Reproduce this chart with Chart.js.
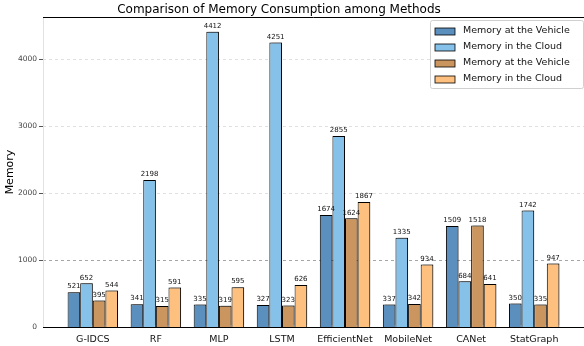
<!DOCTYPE html>
<html>
<head>
<meta charset="utf-8">
<script src="https://cdn.jsdelivr.net/npm/chart.js@4"></script>
<style>
  html, body { margin: 0; padding: 0; background: #fff; }
  #wrap { width: 584px; height: 346px; }
</style>
</head>
<body>
<div id="wrap"><canvas id="memChart" width="584" height="346"></canvas></div>
<script>
// categories and series
var methods = ['G-IDCS', 'RF', 'MLP', 'LSTM', 'EfficientNet', 'MobileNet', 'CANet', 'StatGraph'];
var vehicleA = [521, 341, 335, 327, 1674, 337, 1509, 350];
var cloudA   = [652, 2198, 4412, 4251, 2855, 1335, 684, 1742];
var vehicleB = [395, 315, 319, 323, 1624, 342, 1518, 335];
var cloudB   = [544, 591, 595, 626, 1867, 934, 641, 947];
var yTicks = [0, 1000, 2000, 3000, 4000];

var seriesNames = ['Memory at the Vehicle', 'Memory in the Cloud', 'Memory at the Vehicle', 'Memory in the Cloud'];
var seriesColors = ['#5a8fbe', '#85c1e9', '#cb955f', '#fec07f'];
var seriesValues = [vehicleA, cloudA, vehicleB, cloudB];

var FONT = '"DejaVu Sans", sans-serif';

function toPoints(vals) {
  return vals.map(function (v, i) { return { x: i, y: v }; });
}

var datasets = seriesValues.map(function (vals, k) {
  return {
    label: seriesNames[k],
    data: toPoints(vals),
    backgroundColor: seriesColors[k],
    borderColor: '#000',
    borderWidth: 1,
    borderSkipped: 'bottom',
    categoryPercentage: 0.8,
    barPercentage: 1.0
  };
});

// bar shadow, value labels, spines, title and legend box
var extras = {
  id: 'extras',
  beforeDatasetsDraw: function (chart) {
    var c = chart.ctx;
    c.save();
    c.shadowColor = 'rgba(0,0,0,0.25)';
    c.shadowOffsetX = 2;
    c.shadowOffsetY = -2;
    c.shadowBlur = 0;
  },
  afterDatasetsDraw: function (chart) {
    var c = chart.ctx;
    c.restore();
    c.save();
    c.font = '7px ' + FONT;
    c.fillStyle = '#111';
    c.textAlign = 'center';
    c.textBaseline = 'bottom';
    chart.data.datasets.forEach(function (ds, k) {
      chart.getDatasetMeta(k).data.forEach(function (bar, i) {
        c.fillText(String(ds.data[i].y), bar.x, bar.y - 2);
      });
    });
    c.restore();
  },
  afterDraw: function (chart) {
    var c = chart.ctx, a = chart.chartArea;
    c.save();
    // left spine (solid, light) and top spine
    c.strokeStyle = '#e2e2e2';
    c.lineWidth = 1;
    c.beginPath();
    c.moveTo(a.left + 0.5, a.top);
    c.lineTo(a.left + 0.5, a.bottom);
    c.stroke();
    c.strokeStyle = '#000';
    c.beginPath();
    c.moveTo(a.left, a.top + 0.5);
    c.lineTo(a.right, a.top + 0.5);
    c.stroke();
    // title
    c.fillStyle = '#000';
    c.font = '12px ' + FONT;
    c.textAlign = 'center';
    c.textBaseline = 'middle';
    c.fillText('Comparison of Memory Consumption among Methods', 279, 9.5);
    // legend
    var lx = 430, ly = 20, lw = 153, lh = 68;
    c.fillStyle = 'rgba(255,255,255,0.85)';
    c.strokeStyle = '#d0d0d0';
    c.lineWidth = 1;
    c.beginPath();
    c.roundRect(lx + 0.5, ly + 0.5, lw, lh, 2);
    c.fill();
    c.stroke();
    c.font = '9.5px ' + FONT;
    c.textAlign = 'left';
    c.textBaseline = 'middle';
    seriesNames.forEach(function (name, k) {
      var yy = ly + 11 + k * 16;
      c.fillStyle = seriesColors[k];
      c.fillRect(lx + 5, yy - 3, 20, 7);
      c.strokeStyle = '#000';
      c.lineWidth = 0.8;
      c.strokeRect(lx + 5, yy - 3, 20, 7);
      c.fillStyle = '#111';
      c.fillText(name, lx + 33, yy);
    });
    c.restore();
  }
};

new Chart(document.getElementById('memChart'), {
  type: 'bar',
  data: { datasets: datasets },
  options: {
    responsive: false,
    animation: false,
    layout: { padding: { top: 17, right: 0, left: 0, bottom: 0 } },
    plugins: {
      legend: { display: false },
      title: { display: false },
      tooltip: { enabled: false }
    },
    scales: {
      x: {
        type: 'linear',
        min: -0.79,
        max: 7.79,
        offset: false,
        afterFit: function (s) { s.height = 19; },
        afterBuildTicks: function (s) {
          s.ticks = methods.map(function (_, i) { return { value: i }; });
        },
        ticks: {
          autoSkip: false,
          maxRotation: 0,
          padding: -1,
          color: '#111',
          font: { family: FONT, size: 9.5 },
          callback: function (v) { return methods[v]; }
        },
        grid: { display: false },
        border: { display: true, color: '#000', width: 1 }
      },
      y: {
        min: 0,
        max: 4632,
        afterFit: function (s) { s.width = 43; },
        afterBuildTicks: function (s) {
          s.ticks = yTicks.map(function (v) { return { value: v }; });
        },
        ticks: {
          color: '#444',
          padding: 2,
          font: { family: FONT, size: 7.5 },
          callback: function (v) { return String(v); }
        },
        title: {
          display: true,
          text: 'Memory',
          color: '#000',
          padding: { top: 4, bottom: 0 },
          font: { family: FONT, size: 11 }
        },
        grid: {
          color: function (ctx) {
            return ctx.tick && ctx.tick.value === 1000 ? 'rgba(0,0,0,0.35)' : 'rgba(0,0,0,0.12)';
          },
          tickColor: '#555',
          tickLength: 4,
          tickBorderDash: [],
          lineWidth: function (ctx) { return ctx.tick && ctx.tick.value === 0 ? 0 : 1; }
        },
        border: { display: false, dash: [3, 3] }
      }
    }
  },
  plugins: [extras]
});
</script>
</body>
</html>
